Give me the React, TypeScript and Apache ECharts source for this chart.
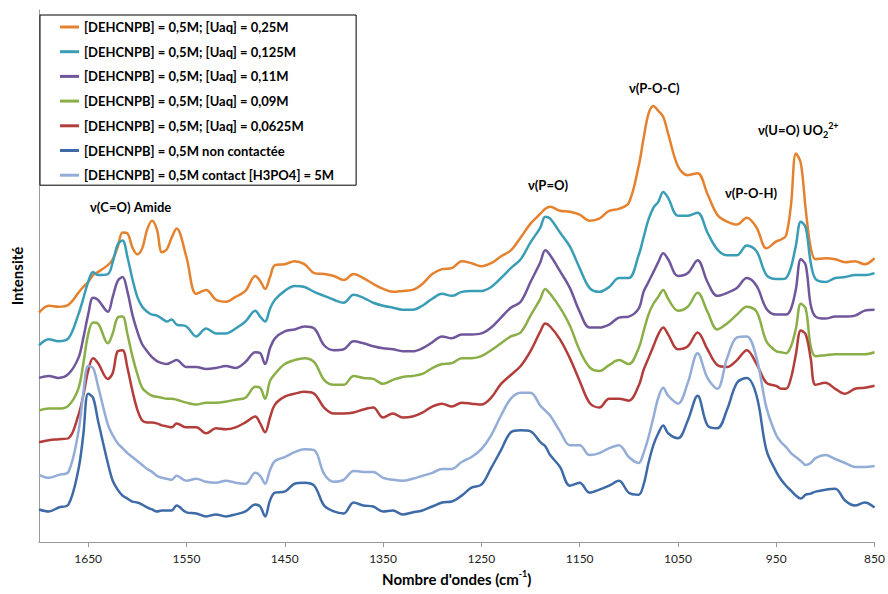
import React, { useEffect, useRef } from "react";
import * as echarts from "echarts";

// Wavenumbers (cm-1), shared by every spectrum
const wavenumbers = [
  1700, 1690, 1680, 1670, 1660, 1655, 1650, 1645, 1640, 1630,
  1625, 1620, 1615, 1610, 1605, 1600, 1595, 1590, 1585, 1580,
  1575, 1570, 1565, 1560, 1550, 1540, 1530, 1520, 1510, 1500,
  1490, 1480, 1475, 1470, 1465, 1460, 1450, 1440, 1430, 1420,
  1410, 1400, 1390, 1380, 1370, 1360, 1350, 1340, 1330, 1320,
  1310, 1300, 1290, 1280, 1270, 1260, 1250, 1240, 1230, 1220,
  1210, 1200, 1190, 1185, 1180, 1170, 1160, 1150, 1140, 1130,
  1120, 1110, 1100, 1090, 1085, 1080, 1075, 1070, 1065, 1060,
  1050, 1040, 1030, 1020, 1010, 1000, 990, 980, 970, 960,
  950, 945, 940, 935, 930, 925, 920, 915, 910, 900,
  890, 880, 870, 860, 850,
];

// Intensities (arbitrary units, spectra offset vertically as in the figure)
const uaq025 = [
  232, 239, 238, 240, 252, 258, 263, 270, 273, 280,
  286, 298, 313, 312, 298, 291, 297, 316, 325, 316,
  293, 296, 308, 317, 288, 251, 255, 245, 243, 248,
  254, 269, 264, 256, 268, 280, 281, 284, 281, 272,
  271, 269, 265, 271, 267, 261, 256, 253, 254, 255,
  261, 271, 276, 277, 284, 282, 279, 282, 289, 295,
  308, 322, 332, 337, 339, 335, 334, 331, 325, 327,
  335, 337, 343, 380, 408, 433, 441, 436, 430, 413,
  380, 371, 373, 352, 331, 324, 321, 328, 318, 297,
  304, 306, 310, 341, 393, 383, 336, 298, 286, 287,
  286, 283, 284, 281, 287,
];
const uaq0125 = [
  199, 205, 203, 206, 230, 246, 263, 273, 270, 271,
  283, 301, 305, 288, 266, 248, 238, 233, 230, 229,
  226, 223, 225, 220, 218, 208, 216, 211, 211, 216,
  223, 234, 228, 223, 236, 245, 254, 259, 258, 253,
  249, 245, 242, 250, 247, 242, 239, 237, 235, 235,
  239, 246, 251, 249, 253, 254, 254, 258, 267, 277,
  286, 303, 318, 329, 327, 313, 299, 277, 257, 253,
  258, 267, 267, 290, 308, 326, 338, 344, 354, 348,
  330, 330, 333, 313, 296, 290, 290, 300, 294, 270,
  266, 266, 267, 278, 300, 324, 318, 283, 266, 263,
  267, 268, 270, 270, 272,
];
const uaq011 = [
  166, 168, 166, 170, 186, 206, 230, 247, 245, 233,
  248, 264, 268, 253, 230, 213, 200, 193, 187, 183,
  181, 180, 182, 184, 177, 177, 175, 176, 178, 176,
  182, 192, 191, 180, 196, 206, 213, 215, 218, 216,
  199, 194, 195, 203, 201, 198, 196, 195, 193, 193,
  196, 202, 208, 206, 210, 210, 211, 217, 227, 237,
  243, 263, 283, 295, 290, 274, 257, 233, 217, 217,
  220, 227, 228, 236, 253, 263, 273, 283, 292, 286,
  269, 272, 285, 263, 249, 252, 257, 267, 259, 236,
  230, 230, 230, 236, 256, 286, 280, 240, 228, 226,
  228, 228, 229, 234, 235,
];
const uaq009 = [
  133, 135, 135, 138, 155, 180, 210, 222, 221, 201,
  211, 227, 228, 210, 188, 170, 156, 151, 148, 147,
  146, 145, 145, 144, 141, 139, 141, 141, 142, 144,
  146, 157, 156, 145, 163, 170, 180, 184, 186, 182,
  164, 159, 159, 168, 166, 165, 160, 164, 167, 168,
  170, 176, 180, 181, 186, 186, 188, 194, 201, 208,
  212, 229, 246, 256, 251, 237, 219, 194, 177, 173,
  179, 184, 180, 196, 213, 230, 241, 248, 255, 246,
  234, 238, 252, 233, 215, 221, 230, 238, 233, 203,
  193, 192, 191, 198, 216, 241, 236, 198, 188, 189,
  190, 190, 190, 190, 192,
];
const uaq00625 = [
  101, 103, 104, 105, 128, 148, 173, 186, 181, 165,
  171, 193, 194, 176, 153, 134, 123, 121, 121, 120,
  118, 117, 116, 120, 116, 116, 110, 115, 114, 116,
  121, 127, 120, 111, 126, 139, 147, 150, 152, 150,
  136, 130, 130, 131, 134, 136, 126, 130, 126, 127,
  131, 137, 140, 137, 141, 140, 139, 146, 160, 169,
  178, 193, 213, 221, 218, 205, 186, 163, 141, 136,
  145, 145, 143, 158, 174, 186, 198, 210, 217, 210,
  195, 198, 212, 195, 179, 177, 184, 194, 180, 161,
  158, 155, 155, 166, 190, 214, 210, 186, 159, 161,
  155, 150, 155, 156, 158,
];
const nonContactee = [
  33, 31, 35, 38, 73, 108, 150, 146, 123, 80,
  62, 53, 47, 44, 41, 40, 38, 35, 33, 31,
  32, 32, 32, 37, 30, 29, 26, 28, 26, 28,
  31, 38, 36, 26, 42, 50, 51, 59, 60, 57,
  37, 31, 29, 40, 37, 36, 31, 32, 28, 30,
  32, 36, 40, 41, 47, 55, 58, 75, 93, 111,
  113, 112, 101, 97, 88, 76, 57, 60, 50, 53,
  57, 62, 50, 48, 58, 80, 98, 110, 118, 110,
  105, 123, 148, 118, 115, 134, 161, 166, 148, 93,
  71, 63, 57, 52, 47, 44, 48, 49, 51, 53,
  54, 42, 37, 40, 35,
];
const contactH3PO4 = [
  68, 65, 68, 71, 111, 150, 178, 176, 158, 119,
  108, 100, 95, 90, 86, 82, 78, 74, 71, 67,
  65, 64, 63, 67, 62, 64, 61, 60, 62, 60,
  59, 70, 67, 59, 73, 82, 86, 91, 94, 93,
  69, 61, 63, 72, 71, 71, 65, 63, 62, 64,
  67, 70, 74, 74, 81, 86, 94, 108, 128, 145,
  151, 151, 138, 133, 128, 112, 98, 98, 88, 90,
  95, 98, 86, 80, 90, 106, 126, 146, 156, 148,
  140, 161, 191, 166, 155, 186, 207, 208, 186, 136,
  108, 101, 96, 90, 86, 82, 78, 80, 85, 88,
  84, 80, 76, 76, 77,
];

const seriesNames = [
  "[DEHCNPB] = 0,5M; [Uaq] = 0,25M",
  "[DEHCNPB] = 0,5M; [Uaq] = 0,125M",
  "[DEHCNPB] = 0,5M; [Uaq] = 0,11M",
  "[DEHCNPB] = 0,5M; [Uaq] = 0,09M",
  "[DEHCNPB] = 0,5M; [Uaq] = 0,0625M",
  "[DEHCNPB] = 0,5M non contactée",
  "[DEHCNPB] = 0,5M contact [H3PO4] = 5M",
];
const seriesValues = [uaq025, uaq0125, uaq011, uaq009, uaq00625, nonContactee, contactH3PO4];
const seriesColors = ["#E4822F", "#3A9DB6", "#70569B", "#8BAF48", "#B23D3A", "#3E6BA7", "#93ADD7"];

const tickLabels = [1650, 1550, 1450, 1350, 1250, 1150, 1050, 950, 850];

const FONT = "Lato, 'Liberation Sans', sans-serif";

export default function App() {
  const ref = useRef<HTMLDivElement>(null);

  useEffect(() => {
    if (!ref.current) return;
    const chart = echarts.init(ref.current, undefined, { renderer: "svg" });

    const annotations = [
      { x: 90, y: 207, text: "ν(C=O) Amide" },
      { x: 528, y: 185, text: "ν(P=O)" },
      { x: 629, y: 88, text: "ν(P-O-C)" },
      { x: 725, y: 193, text: "ν(P-O-H)" },
    ];

    chart.setOption({
      animation: false,
      backgroundColor: "#ffffff",
      grid: { left: 39, right: 10, top: 10, bottom: 46 },
      legend: {
        orient: "vertical",
        left: 40,
        top: 15,
        icon: "rect",
        itemWidth: 19,
        itemHeight: 3,
        itemGap: 9.7,
        padding: [4.5, 22, 2.5, 20],
        borderColor: "#000",
        borderWidth: 1,
        backgroundColor: "#fff",
        textStyle: { fontFamily: FONT, fontWeight: "bold", fontSize: 13, color: "#000", lineHeight: 15 },
        data: seriesNames,
      },
      xAxis: {
        type: "value",
        inverse: true,
        min: 850,
        max: 1700,
        axisLine: { show: true, lineStyle: { color: "#9a9a9a", width: 1 } },
        axisTick: { show: true, length: 5, lineStyle: { color: "#9a9a9a" }, customValues: tickLabels },
        axisLabel: {
          customValues: tickLabels,
          margin: 10,
          fontFamily: FONT,
          fontSize: 12,
          color: "#222",
          formatter: (v: number) => String(v),
        },
        splitLine: { show: false },
        name: "Nombre d'ondes (cm{sup|-1})",
        nameLocation: "middle",
        nameGap: 24,
        nameTextStyle: {
          fontFamily: FONT,
          fontWeight: "bold",
          fontSize: 15,
          color: "#000",
          lineHeight: 20,
          rich: { sup: { fontFamily: FONT, fontWeight: "bold", fontSize: 9, verticalAlign: "top", lineHeight: 11, color: "#000" } },
        },
      },
      yAxis: {
        type: "value",
        min: 0,
        max: 538,
        axisLine: { show: true, lineStyle: { color: "#9a9a9a", width: 1 } },
        axisTick: { show: false },
        axisLabel: { show: false },
        splitLine: { show: false },
        name: "Intensité",
        nameLocation: "middle",
        nameGap: 15,
        nameTextStyle: { fontFamily: FONT, fontWeight: "bold", fontSize: 15, color: "#000" },
      },
      series: seriesNames.map((name, i) => ({
        name,
        type: "line",
        data: wavenumbers.map((w, j) => [w, seriesValues[i][j]]),
        showSymbol: false,
        smooth: 0.35,
        color: seriesColors[i],
        lineStyle: { width: 2.5, color: seriesColors[i] },
      })),
      graphic: [
        ...annotations.map((a) => ({
          type: "text",
          x: a.x,
          y: a.y,
          style: {
            text: a.text,
            font: `bold 13px ${FONT}`,
            fill: "#000",
            textVerticalAlign: "middle",
            verticalAlign: "middle",
          },
        })),
        {
          type: "text",
          x: 758,
          y: 130,
          style: {
            text: "ν(U=O) UO{sub|2}{sup|2+}",
            font: `bold 13px ${FONT}`,
            fill: "#000",
            lineHeight: 18,
            textVerticalAlign: "middle",
            verticalAlign: "middle",
            rich: {
              sub: { font: `bold 9px ${FONT}`, fill: "#000", verticalAlign: "bottom", lineHeight: 10 },
              sup: { font: `bold 9px ${FONT}`, fill: "#000", verticalAlign: "top", lineHeight: 10 },
            },
          },
        },
      ],
    });

    return () => chart.dispose();
  }, []);

  return <div ref={ref} style={{ position: "fixed", left: 0, top: 0, width: 888, height: 594 }} />;
}
